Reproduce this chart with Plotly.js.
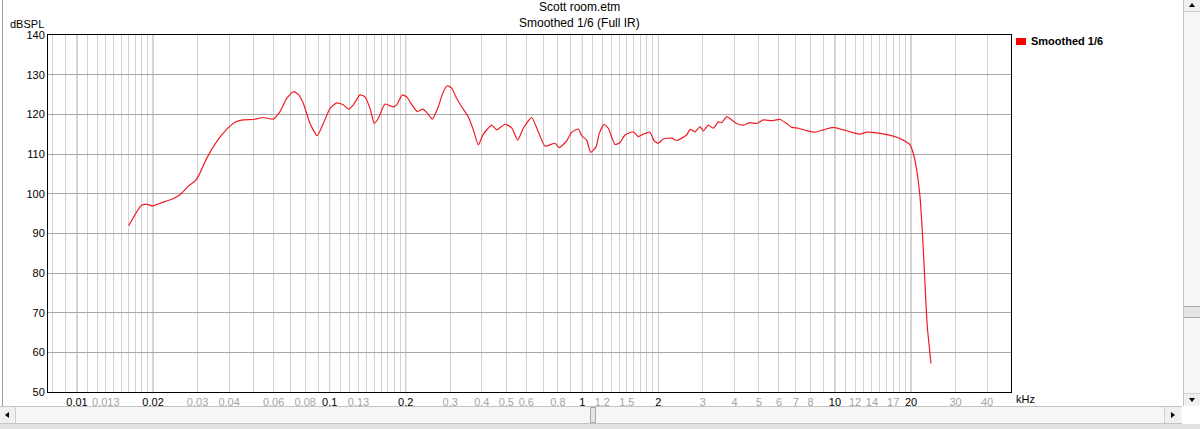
<!DOCTYPE html>
<html>
<head>
<meta charset="utf-8">
<script src="https://cdn.plot.ly/plotly-3.0.1.min.js"></script>
<style>
body { margin: 0; background: #fff; overflow: hidden; }
#chart { position: absolute; left: 0; top: 0; width: 1200px; height: 429px; }
.ui { position: absolute; box-sizing: border-box; }
.tri { position: absolute; width: 0; height: 0; }
</style>
</head>
<body>
<div id="chart"></div>

<!-- window frame and scroll bars round the chart -->
<div class="ui" style="left:2px;top:0;width:1px;height:406px;background:#9c9c9c"></div>
<div class="ui" style="left:0;top:406px;width:1182px;height:18px;background:#f6f6f6;border-top:1px solid #c4c4c4;border-bottom:1px solid #c4c4c4"></div>
<div class="ui" style="left:0;top:407px;width:16px;height:16px;background:#f0f0f0;border-right:1px solid #d0d0d0">
  <div class="tri" style="left:5px;top:5px;border-top:3px solid transparent;border-bottom:3px solid transparent;border-right:4px solid #000"></div>
</div>
<div class="ui" style="left:1164px;top:407px;width:17px;height:16px;background:#f0f0f0;border-left:1px solid #d0d0d0">
  <div class="tri" style="left:6px;top:5px;border-top:3px solid transparent;border-bottom:3px solid transparent;border-left:4px solid #000"></div>
</div>
<div class="ui" style="left:590px;top:407px;width:6px;height:16px;background:#e6e6e6;border:1px solid #aaa"></div>
<div class="ui" style="left:0;top:424px;width:1200px;height:5px;background:#e2e2e2"></div>
<div class="ui" style="left:1183px;top:0;width:17px;height:406px;background:#f6f6f6;border-left:1px solid #c4c4c4"></div>
<div class="ui" style="left:1184px;top:0;width:16px;height:12px;background:#f0f0f0;border-bottom:1px solid #d0d0d0">
  <div class="tri" style="left:5px;top:3px;border-left:3px solid transparent;border-right:3px solid transparent;border-bottom:4px solid #000"></div>
</div>
<div class="ui" style="left:1184px;top:306px;width:16px;height:12px;background:#e6e6e6;border-top:1px solid #aaa;border-bottom:1px solid #aaa"></div>
<div class="ui" style="left:1184px;top:393px;width:16px;height:13px;background:#f0f0f0;border-top:1px solid #d0d0d0">
  <div class="tri" style="left:5px;top:4px;border-left:3px solid transparent;border-right:3px solid transparent;border-top:4px solid #000"></div>
</div>

<script>
// Smoothed 1/6 response, frequency in kHz, level in dB SPL
var freq = [0.0160, 0.0180, 0.0190, 0.0199, 0.0213, 0.0241, 0.0256, 0.0276, 0.0293, 0.0302,
    0.0326, 0.0357, 0.0391, 0.0422, 0.0455, 0.0499, 0.0546, 0.0598, 0.0636, 0.0676,
    0.0718, 0.0751, 0.0786, 0.0836, 0.0893, 0.0944, 0.1003, 0.1066, 0.1132, 0.1185,
    0.1241, 0.1318, 0.1380, 0.1444, 0.1502, 0.1558, 0.1656, 0.1786, 0.1842, 0.1939,
    0.2018, 0.2112, 0.2223, 0.2334, 0.2435, 0.2548, 0.2691, 0.2817, 0.2922, 0.3041,
    0.3183, 0.3331, 0.3538, 0.3703, 0.3876, 0.4055, 0.4378, 0.4582, 0.4942, 0.5253,
    0.5549, 0.5840, 0.6304, 0.6695, 0.7115, 0.7797, 0.8109, 0.8673, 0.9077, 0.9639,
    0.9942, 1.040, 1.079, 1.133, 1.167, 1.218, 1.267, 1.347, 1.410, 1.475,
    1.591, 1.665, 1.743, 1.853, 1.921, 1.997, 2.091, 2.257, 2.363, 2.588,
    2.668, 2.792, 2.923, 3.012, 3.151, 3.298, 3.452, 3.561, 3.727, 3.900,
    4.082, 4.336, 4.608, 4.898, 5.202, 5.617, 6.058, 6.438, 6.740, 7.157,
    7.727, 8.334, 8.989, 9.845, 10.78, 11.47, 12.56, 13.35, 15.07, 17.01,
    18.63, 19.81, 20.41, 21.05, 21.70, 22.15, 22.50, 22.91, 23.19, 23.61, 23.98];
var level = [91.9, 97.1, 97.3, 96.9, 97.6, 98.8, 99.8, 101.9, 103.2, 104.3,
    108.9, 113.1, 116.2, 118.0, 118.6, 118.7, 119.2, 118.8, 120.7, 124.0,
    125.7, 125.1, 122.8, 117.7, 114.6, 117.7, 121.5, 122.9, 122.4, 121.3,
    122.4, 124.9, 124.4, 121.5, 117.7, 119.0, 122.6, 121.9, 122.4, 124.9,
    124.4, 122.5, 120.7, 121.3, 120.3, 118.8, 121.9, 125.7, 127.2, 126.6,
    124.0, 121.9, 119.4, 116.1, 112.3, 115.0, 117.3, 116.1, 117.5, 116.6,
    113.5, 116.5, 119.2, 115.6, 112.0, 112.7, 111.6, 113.3, 115.5, 116.3,
    114.6, 113.5, 110.4, 111.8, 115.2, 117.5, 116.5, 112.4, 112.9, 114.8,
    115.6, 114.4, 115.0, 115.5, 113.4, 112.7, 113.8, 114.0, 113.4, 114.8,
    116.2, 115.6, 116.9, 115.8, 117.3, 116.5, 118.1, 117.9, 119.4, 118.6,
    117.7, 117.3, 117.9, 117.7, 118.6, 118.4, 118.7, 117.7, 116.7, 116.5,
    115.9, 115.5, 116.1, 116.7, 116.1, 115.6, 115.0, 115.5, 115.2, 114.5,
    113.5, 112.3, 110.2, 106.0, 99.2, 90.8, 82.5, 72.4, 66.5, 61.4, 57.2];

// labelled frequency ticks (kHz); the 1x and 2x ones are drawn in black
var tickVals = [0.01, 0.013, 0.02, 0.03, 0.04, 0.06, 0.08, 0.1, 0.13, 0.2, 0.3, 0.4, 0.5, 0.6, 0.8,
    1, 1.2, 1.5, 2, 3, 4, 5, 6, 7, 8, 10, 12, 14, 17, 20, 30, 40];
var tickText = ['0.01', '0.013', '0.02', '0.03', '0.04', '0.06', '0.08', '0.1', '0.13', '0.2', '0.3', '0.4', '0.5', '0.6', '0.8',
    '1', '1.2', '1.5', '2', '3', '4', '5', '6', '7', '8', '10', '12', '14', '17', '20', '30', '40'];
var darkTicks = [0.01, 0.02, 0.1, 0.2, 1, 2, 10, 20];
var levelTicks = [50, 60, 70, 80, 90, 100, 110, 120, 130, 140];

var fileName = 'Scott room.etm';
var plotTitle = 'Smoothed 1/6 (Full IR)';
var seriesName = 'Smoothed 1/6';

// grid positions: 1.1..1.9 and 3..9 in every decade are light, 1 and 2 are dark
var decades = [0.001, 0.01, 0.1, 1, 10];
var steps = [1.1, 1.2, 1.3, 1.4, 1.5, 1.6, 1.7, 1.8, 1.9, 3, 4, 5, 6, 7, 8, 9];
var minorVals = [];
decades.forEach(function (d) {
    steps.forEach(function (s) {
        var v = +(s * d).toPrecision(4);
        if (tickVals.indexOf(v) < 0) minorVals.push(v);
    });
});

var labels = tickVals.map(function (v, i) {
    if (darkTicks.indexOf(v) >= 0) return tickText[i];
    return '<span style="color:#a4a4a4">' + tickText[i] + '</span>';
});

var gridShapes = darkTicks.map(function (v) {
    return {
        type: 'line', xref: 'x', yref: 'paper',
        x0: v, x1: v, y0: 0, y1: 1,
        layer: 'between',
        line: { color: '#a8a8a8', width: 1 }
    };
});

var response = {
    x: freq,
    y: level,
    name: seriesName,
    type: 'scatter',
    mode: 'lines',
    line: { color: '#f01c24', width: 1.2, shape: 'spline', smoothing: 0.5 },
    showlegend: false
};

var font = 'Liberation Sans, Arial, sans-serif';

function note(text, x, y, xanchor, size) {
    return {
        text: text, xref: 'paper', yref: 'paper',
        x: x, y: y, xanchor: xanchor, yanchor: 'middle',
        showarrow: false, font: { family: font, size: size, color: '#000' }
    };
}

var layout = {
    width: 1200,
    height: 429,
    margin: { l: 48, r: 189, t: 35, b: 37, pad: 0 },
    paper_bgcolor: '#fff',
    plot_bgcolor: '#fff',
    font: { family: font, size: 11, color: '#000' },
    xaxis: {
        type: 'log',
        range: [-2.1148, 1.6966],
        tickmode: 'array',
        tickvals: tickVals,
        ticktext: labels,
        ticks: '',
        showgrid: true,
        gridcolor: '#d2d2d2',
        minor: {
            tickmode: 'array',
            tickvals: minorVals,
            ticks: '',
            showgrid: true,
            gridcolor: '#d2d2d2'
        },
        showline: true,
        linecolor: '#000',
        linewidth: 1,
        mirror: true,
        zeroline: false,
        tickfont: { family: font, size: 11, color: '#000' }
    },
    yaxis: {
        range: [50, 140],
        tickmode: 'array',
        tickvals: levelTicks,
        ticks: '',
        showgrid: true,
        gridcolor: '#a8a8a8',
        showline: true,
        linecolor: '#000',
        linewidth: 1,
        mirror: true,
        zeroline: false,
        tickfont: { family: font, size: 11, color: '#000' }
    },
    shapes: gridShapes.concat([{
        type: 'rect', xref: 'paper', yref: 'paper',
        x0: 1.0052, x1: 1.0156, y0: 0.972, y1: 0.9916,
        fillcolor: '#ff0000', line: { width: 0 }
    }]),
    annotations: [
        note(fileName, 0.5524, 1.0784, 'center', 12),
        note(plotTitle, 0.5524, 1.0336, 'center', 12),
        note('<b>' + seriesName + '</b>', 1.0185, 0.982, 'left', 11),
        note('dBSPL', -0.002, 1.032, 'right', 11),
        note('kHz', 1.003, -0.02, 'left', 11)
    ],
    showlegend: false
};

Plotly.newPlot('chart', [response], layout, { staticPlot: true });
</script>
</body>
</html>
